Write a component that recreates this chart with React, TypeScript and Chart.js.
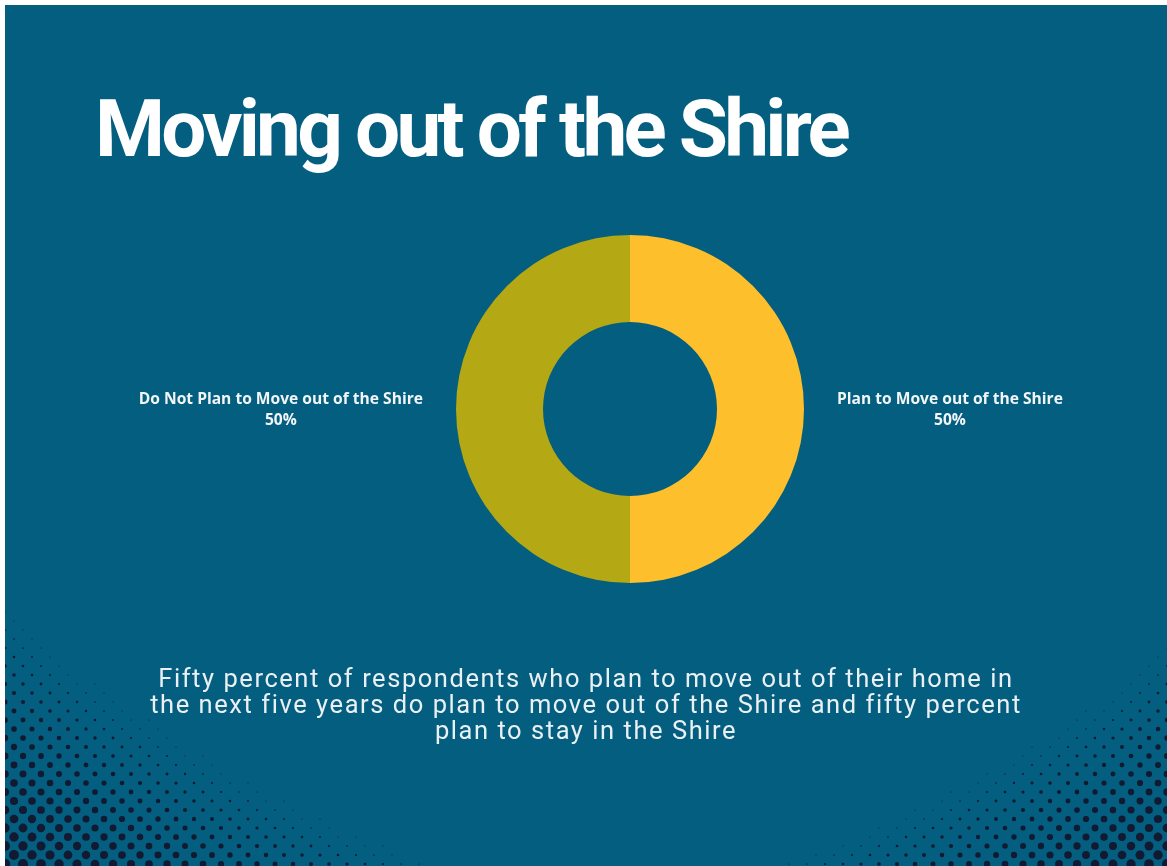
import React, { useEffect, useRef } from "react";
import { Chart, registerables } from "chart.js";

Chart.register(...registerables);

const categories = ["Plan to Move out of the Shire", "Do Not Plan to Move out of the Shire"];
const values = [50, 50];
const sliceColors = ["#fdbf2b", "#b4a914"];
const titleText = "Moving out of the Shire";
const captionLines = [
  "Fifty percent of respondents who plan to move out of their home in",
  "the next five years do plan to move out of the Shire and fifty percent",
  "plan to stay in the Shire",
];

const W = 1162;
const H = 861;

export default function App() {
  const ref = useRef<HTMLCanvasElement>(null);

  useEffect(() => {
    document.body.style.margin = "0";
    const canvas = ref.current;
    if (!canvas) return;

    const halftone = {
      id: "halftone",
      beforeDraw(chart: any) {
        const ctx = chart.ctx;
        ctx.save();
        ctx.fillStyle = "#121a31";
        const drawCorner = (cx: number, cy: number, a: number, b: number, maxR: number) => {
          const rowStep = 9;
          const colStep = 18;
          let row = 0;
          for (let y = cy; y >= cy - b - 10; y -= rowStep, row++) {
            const offset = row % 2 === 0 ? 0 : colStep / 2;
            for (let k = 0; k * colStep <= a + 20; k++) {
              const dx = k * colStep + offset;
              const dy = cy - y;
              const d = Math.pow(Math.pow(dx / a, 0.85) + Math.pow(dy / b, 0.85), 1 / 0.85);
              const t = 1 - d;
              if (t <= 0) continue;
              const r = Math.max(0.6, maxR * Math.pow(t, 0.75));
              const x = cx === 0 ? dx : cx - dx;
              ctx.beginPath();
              ctx.arc(x, y, r, 0, Math.PI * 2);
              ctx.fill();
            }
          }
        };
        drawCorner(0, H - 2, 430, 260, 5.2);
        drawCorner(W, H - 2, 390, 220, 5.0);
        ctx.restore();
      },
    };

    const outLabels = {
      id: "outLabels",
      afterDatasetsDraw(chart: any) {
        const ctx = chart.ctx;
        const meta = chart.getDatasetMeta(0);
        const data = chart.data.datasets[0].data as number[];
        const total = data.reduce((s, v) => s + v, 0);
        ctx.save();
        ctx.font = 'bold 15.6px "Open Sans"';
        ctx.fillStyle = "#f3f6f8";
        ctx.textBaseline = "middle";
        ctx.textAlign = "center";
        meta.data.forEach((arc: any, i: number) => {
          const p = arc.getProps(["x", "y", "startAngle", "endAngle", "outerRadius"], true);
          const mid = (p.startAngle + p.endAngle) / 2;
          const dist = p.outerRadius + 33;
          const ax = p.x + Math.cos(mid) * dist;
          const ay = p.y + Math.sin(mid) * dist;
          const lines = [String(chart.data.labels[i]), Math.round((data[i] / total) * 100) + "%"];
          const w = Math.max(...lines.map((l) => ctx.measureText(l).width));
          const left = Math.cos(mid) >= 0 ? ax : ax - w;
          const lh = 21;
          lines.forEach((l, j) => {
            ctx.fillText(l, left + w / 2, ay + 1 + (j - (lines.length - 1) / 2) * lh);
          });
        });
        ctx.restore();
      },
    };

    const chart = new Chart(canvas, {
      type: "doughnut",
      data: {
        labels: categories,
        datasets: [
          {
            data: values,
            backgroundColor: sliceColors,
            borderWidth: 0,
            hoverOffset: 0,
          },
        ],
      },
      options: {
        responsive: false,
        animation: false,
        cutout: "50%",
        layout: { padding: { left: 451, right: 363, top: 230, bottom: 283 } },
        plugins: {
          legend: { display: false },
          tooltip: { enabled: false },
          title: { display: false },
        },
        events: [],
      },
      plugins: [halftone, outLabels],
    });
    return () => chart.destroy();
  }, []);

  return (
    <div style={{ position: "fixed", left: 0, top: 0, width: 1167, height: 866, background: "#ffffff", overflow: "hidden" }}>
      <div style={{ position: "absolute", left: 5, top: 5, width: W, height: H, background: "#045e80", overflow: "hidden" }}>
        <canvas ref={ref} width={W} height={H} style={{ position: "absolute", left: 0, top: 0, width: W, height: H }} />
        <div
          style={{
            position: "absolute",
            left: 90,
            top: 84,
            fontFamily: "Roboto",
            fontWeight: 700,
            fontSize: 80,
            lineHeight: "80px",
            letterSpacing: "-3.8px",
            color: "#ffffff",
            whiteSpace: "nowrap",
          }}
        >
          {titleText}
        </div>
        <div
          style={{
            position: "absolute",
            left: 0,
            top: 660,
            width: W,
            textAlign: "center",
            fontFamily: "Roboto",
            fontSize: 25.5,
            lineHeight: "26px",
            letterSpacing: "1.55px",
            color: "#eaf0f3",
          }}
        >
          {captionLines.map((l, i) => (
            <div key={i} style={{ whiteSpace: "nowrap" }}>{l}</div>
          ))}
        </div>
      </div>
    </div>
  );
}
